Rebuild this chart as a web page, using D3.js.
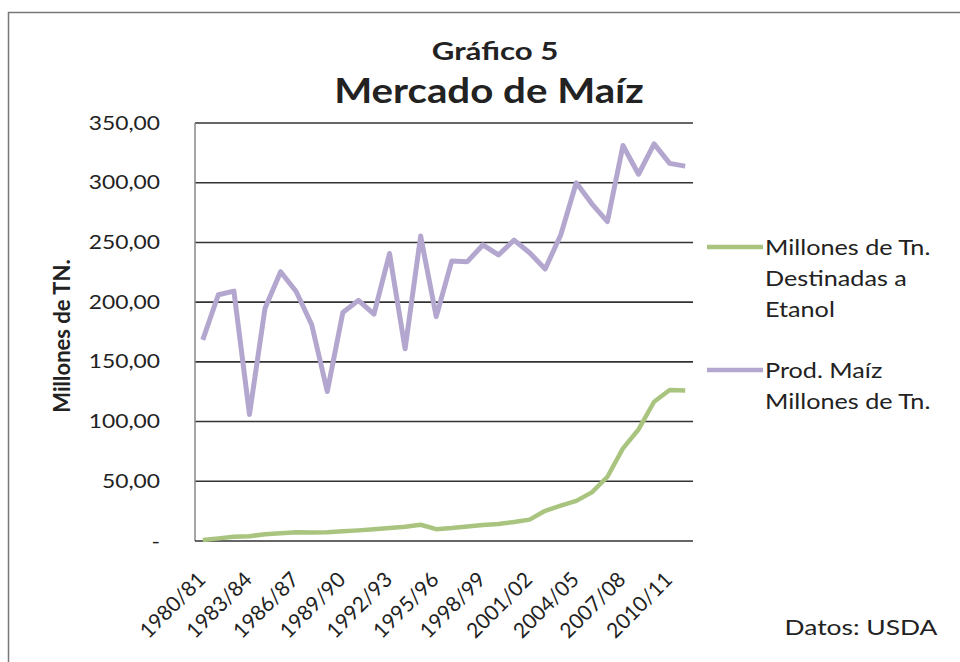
<!DOCTYPE html>
<html><head><meta charset="utf-8">
<script src="https://cdn.jsdelivr.net/npm/d3@7"></script>
<style>body{margin:0;background:#fff}svg{display:block}text{font-family:Lato,"Open Sans",sans-serif;fill:#222}</style>
</head><body>
<svg id="c" width="960" height="662"></svg>
<script>
const categories = ["1980/81","1981/82","1982/83","1983/84","1984/85","1985/86","1986/87","1987/88","1988/89","1989/90","1990/91","1991/92","1992/93","1993/94","1994/95","1995/96","1996/97","1997/98","1998/99","1999/00","2000/01","2001/02","2002/03","2003/04","2004/05","2005/06","2006/07","2007/08","2008/09","2009/10","2010/11","2011/12"];
const etanol = [0.9,2.2,3.5,4.0,5.7,6.5,7.4,7.1,7.3,8.1,8.9,9.9,10.8,11.9,13.6,9.9,10.9,12.2,13.3,14.3,15.9,17.9,25.3,29.6,33.6,40.7,53.8,77.5,93.4,116.6,126.5,126.0];
const produccion = [168.4,206.2,209.2,106.0,194.9,225.5,208.9,181.1,125.2,191.3,201.5,189.9,240.7,160.9,255.3,187.9,234.5,233.9,247.9,239.5,251.9,241.4,227.8,256.2,299.9,282.3,267.5,331.2,307.1,332.5,316.2,313.9];
const yTicks = [0,50,100,150,200,250,300,350];
const xTickLabels = categories.filter((d,i)=>i%3===0);
const seriesNames = [["Millones de Tn.","Destinadas a","Etanol"],["Prod. Maíz","Millones de  Tn."]];
const colors = ["#a9c47f","#b4a7cf"];

const svg = d3.select("#c");
svg.append("path").attr("d","M8.5,662 L8.5,12.5 L960,12.5").attr("fill","none").attr("stroke","#777").attr("stroke-width",1.5);

const L=195,R=693,T=123,B=541;
const x = d3.scaleBand().domain(categories).range([L,R]);
const y = d3.scaleLinear().domain([0,350]).range([B,T]);
const cx = d => x(d)+x.bandwidth()/2;

function stext(px,py,sx,size,txt,opts={}){
  const t = svg.append("text").attr("transform",`translate(${px},${py}) scale(${sx},1)`)
    .style("font-size",size+"px").text(txt);
  if(opts.anchor) t.attr("text-anchor",opts.anchor);
  if(opts.bold) t.style("font-weight","bold");
  if(opts.fill) t.attr("fill",opts.fill);
  return t;
}

svg.append("g").selectAll("line").data(yTicks.filter(v=>v>0)).join("line")
  .attr("x1",L).attr("x2",R).attr("y1",d=>y(d)).attr("y2",d=>y(d))
  .attr("stroke","#333").attr("stroke-width",1.6);
svg.append("line").attr("x1",L).attr("x2",L).attr("y1",T).attr("y2",B).attr("stroke","#888").attr("stroke-width",1.5);
svg.append("line").attr("x1",L).attr("x2",R).attr("y1",B).attr("y2",B).attr("stroke","#333").attr("stroke-width",1.6);

const fmt = v => v===0 ? "-" : d3.format(".2f")(v).replace(".",",");
const ySx = 1.2;
const ya = svg.append("g").attr("transform",`translate(${L},0)`)
  .call(d3.axisLeft(y).tickValues(yTicks).tickFormat(fmt).tickSize(0).tickPadding(35));
ya.select(".domain").remove();
ya.selectAll("text").style("font-family","Lato,sans-serif").style("font-size","19px").attr("fill","#222")
  .attr("x",-35/ySx).attr("transform",`scale(${ySx},1)`);

const xa = svg.append("g").attr("transform",`translate(0,${B})`)
  .call(d3.axisBottom(x).tickValues(xTickLabels).tickSize(0).tickFormat(d=>d));
xa.select(".domain").remove();
xa.selectAll("text").style("font-family","Lato,sans-serif").style("font-size","21px").attr("fill","#111")
  .attr("text-anchor","end").attr("dy",null).attr("y",0)
  .attr("transform","translate(4,40) rotate(-45)");

const line = d3.line().x((d,i)=>cx(categories[i])).y(d=>y(d));
svg.append("path").datum(produccion).attr("d",line).attr("fill","none").attr("stroke",colors[1]).attr("stroke-width",5).attr("stroke-linejoin","round");
svg.append("path").datum(etanol).attr("d",line).attr("fill","none").attr("stroke",colors[0]).attr("stroke-width",4.5).attr("stroke-linejoin","round");

stext(495,60,1.3,24,"Gráfico 5",{anchor:"middle",bold:true});
stext(489,103,1.15,35,"Mercado de Maíz",{anchor:"middle",bold:true,fill:"#333"});
svg.append("text").attr("transform","translate(70,336) rotate(-90)").attr("text-anchor","middle").style("font-size","22px").style("font-weight","bold").text("Millones de TN.");

const legY=[247,370];
seriesNames.forEach((lines,k)=>{
  svg.append("line").attr("x1",707).attr("x2",763).attr("y1",legY[k]).attr("y2",legY[k]).attr("stroke",colors[k]).attr("stroke-width",4.5);
  lines.forEach((t,j)=>stext(765,legY[k]+8+j*31,1.2,21,t));
});
stext(861,635,1.2,22,"Datos: USDA",{anchor:"middle",fill:"#333"});
</script>
</body></html>
